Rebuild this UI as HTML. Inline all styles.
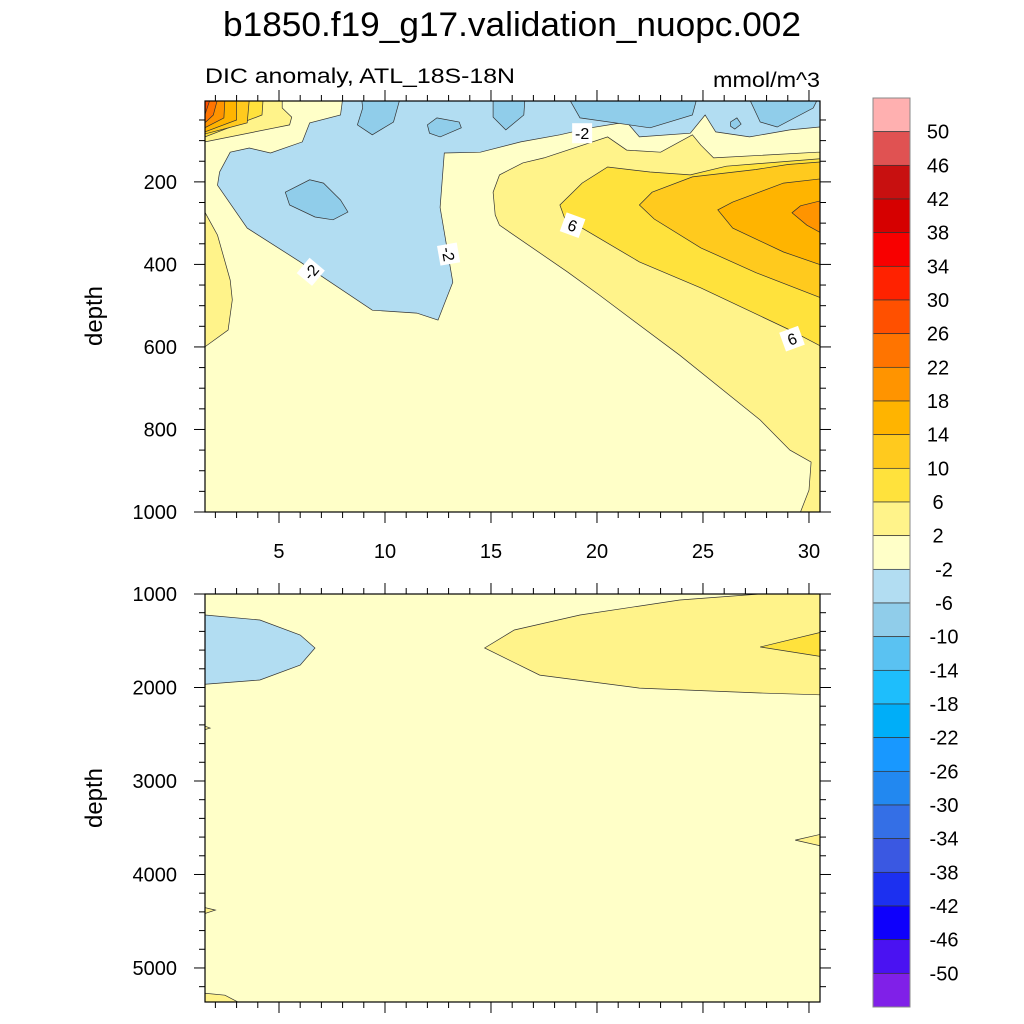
<!DOCTYPE html>
<html><head><meta charset="utf-8"><style>
body{margin:0;background:#fff;}
svg{display:block;font-family:"Liberation Sans",Arial,sans-serif;}
</style></head><body>
<svg id="chart" width="1024" height="1024" viewBox="0 0 1024 1024">
<defs>
<clipPath id="clipTop"><rect x="205" y="101" width="615" height="411"/></clipPath>
<clipPath id="clipBot"><rect x="205" y="594" width="615" height="408"/></clipPath>
</defs>
<text x="512" y="36" font-size="34" text-anchor="middle" textLength="578" lengthAdjust="spacingAndGlyphs">b1850.f19_g17.validation_nuopc.002</text>
<text x="205" y="83" font-size="21" textLength="310" lengthAdjust="spacingAndGlyphs">DIC anomaly, ATL_18S-18N</text>
<text x="820" y="87" font-size="21" text-anchor="end" textLength="107" lengthAdjust="spacingAndGlyphs">mmol/m^3</text>
<text transform="translate(102,316) rotate(-90)" font-size="24" text-anchor="middle">depth</text>
<text transform="translate(102,798) rotate(-90)" font-size="24" text-anchor="middle">depth</text>
<g id="topFill" clip-path="url(#clipTop)"></g>
<g id="botFill" clip-path="url(#clipBot)"></g>
<g id="axes"></g>
<g id="cbar"></g>
</svg>
<script>
// ---- data ----
const levels = [50,46,42,38,34,30,26,22,18,14,10,6,2,-2,-6,-10,-14,-18,-22,-26,-30,-34,-38,-42,-46,-50];
const colors = ["#FFB0B0","#E05252","#C81010","#D60000","#F80000","#FF2200","#FF5000","#FF7400","#FF9400","#FFB400","#FFCA1E","#FFE23C","#FFF38A","#FFFFC8","#B2DDF2","#90CDEA","#5AC2F2","#1EBEFC","#00AEF8","#1898FF","#2288F0","#346FE6","#3A58E2","#1C30F0","#0E00FC","#4A12F2","#8020E8"];
const xTicks = [5,10,15,20,25,30];
const yTicksTop = [200,400,600,800,1000];
const yTicksBot = [1000,2000,3000,4000,5000];
// contour regions: [colorIndex, [[lat,depth],...]]
const topRegions = [
 [12, [[1,273],[1.5,273],[2.1,329],[2.7,438],[2.8,486],[2.6,559],[1.5,600],[1,600]]],
 [12, [[31,128],[30.4,128],[25.5,142],[24.9,111],[24.5,86],[23.0,128],[21.4,123],[20.5,91],[17.5,142],[16.5,154],[15.4,183],[15.1,225],[15.2,280],[15.4,305],[18.6,418],[20.1,474],[23.9,620],[27.7,777],[29.1,850],[30.1,879],[30.0,947],[29.6,1000],[29.5,1010],[31,1010]]],
 [14, [[8.0,0],[7.9,38],[6.45,57],[6.1,103],[4.6,130],[3.6,118],[2.7,128],[2.2,176],[2.1,208],[3.5,312],[6.0,394],[9.4,511],[11.5,518],[12.5,535],[13.2,443],[12.6,262],[12.8,130],[14.5,128],[16.4,103],[18.25,86],[19.7,69],[21.4,55],[22.0,91],[24.4,82],[25.1,38],[25.6,79],[27.2,91],[29.1,74],[30.5,67],[31,67],[31,0]]],
 [15, [[8.9,0],[8.95,21],[8.7,62],[9.4,86],[10.4,55],[10.7,0]]],
 [15, [[12.0,62],[12.45,45],[13.5,55],[13.6,69],[12.6,91],[12.1,82]]],
 [15, [[15.1,0],[16.6,0],[16.55,38],[15.7,74],[15.1,43]]],
 [15, [[18.7,0],[19.2,45],[22.5,69],[24.5,38],[24.7,0]]],
 [15, [[26.3,55],[26.6,45],[26.8,60],[26.5,72],[26.3,65]]],
 [15, [[27.2,0],[27.7,55],[28.5,67],[30.2,21],[30.4,0]]],
 [15, [[5.3,225],[6.45,195],[7.1,203],[7.9,244],[8.25,273],[7.55,292],[6.7,285],[5.5,256]]],
 [12, [[1,0],[5.15,0],[5.15,21],[5.6,43],[5.5,62],[1.5,103],[1,105]]],
 [11, [[1,0],[4.25,0],[4.2,38],[1.5,91],[1,91]]],
 [10, [[1,0],[3.6,0],[3.5,57],[1.5,84],[1,84]]],
 [9, [[1,0],[3.0,0],[3.0,50],[1.5,79],[1,79]]],
 [8, [[1,0],[2.45,0],[2.4,45],[1.5,69],[1,69]]],
 [7, [[1,0],[2.1,0],[1.9,38],[1.5,57],[1,57]]],
 [6, [[1,0],[1.75,0],[1.5,38],[1,38]]],
 [11, [[31,142],[26.1,162],[24.4,183],[22.5,176],[20.5,164],[19.3,203],[18.25,256],[18.5,292],[19.3,312],[22.0,394],[24.9,457],[29.1,559],[31,610]]],
 [10, [[31,150],[29,158],[27.5,170],[24.5,188],[22.6,225],[22.0,256],[22.7,290],[24.9,360],[27.5,420],[31,490]]],
 [9, [[31,190],[28.8,203],[26.4,249],[25.7,268],[26.4,312],[28.8,370],[31,409]]],
 [8, [[31,240],[29.6,258],[29.2,275],[29.9,305],[31,336]]]
];
const botRegions = [
 [14, [[1,1214],[4.1,1278],[6.0,1439],[6.7,1578],[6.0,1760],[4.1,1920],[1,1974]]],
 [12, [[14.7,1578],[16.1,1385],[19.2,1225],[23.9,1064],[28.0,995],[31,990],[31,2081],[27.7,2059],[22.0,2006],[17.3,1867]]],
 [11, [[27.7,1567],[31,1385],[31,1685]]],
 [12, [[1,2370],[1.75,2434],[1,2487]]],
 [12, [[1,4328],[2.0,4381],[1,4456]]],
 [12, [[29.35,3632],[31,3547],[31,3718]]],
 [12, [[1,5259],[2.45,5291],[3.2,5380],[1,5380]]]
];
const lineLabels = [["-2",19.3,82,0],["6",18.85,305,20],["-2",13.0,375,80],["-2",6.5,418,-50],["6",29.2,580,-20]];
// ---- scales ----
const X0=205,X1=820,LAT0=1.51,LAT1=30.52;
function xs(v){return X0+(v-LAT0)*(X1-X0)/(LAT1-LAT0);}
function yt(d){return 101+(d-4)*(512-101)/(1000-4);}
function yb(d){return 594+(d-1000)*(1002-594)/(5364-1000);}
const NS="http://www.w3.org/2000/svg";
function mk(tag,attrs,parent){const e=document.createElementNS(NS,tag);for(const k in attrs)e.setAttribute(k,attrs[k]);parent.appendChild(e);return e;}
function drawPanel(g,regions,ys,ymin,ymax){
 const bg=mk('rect',{x:X0,y:ys(ymin),width:X1-X0,height:ys(ymax)-ys(ymin),fill:colors[13]},g);
 
 
 regions.forEach((r,i)=>{
  const pts=r[1].map(p=>xs(p[0]).toFixed(1)+','+ys(p[1]).toFixed(1)).join(' ');
  const p=mk('polygon',{points:pts,fill:colors[r[0]],stroke:'#333',"stroke-width":0.7},g);
  
  
 });
}
drawPanel(document.getElementById('topFill'),topRegions,yt,4,1000);
drawPanel(document.getElementById('botFill'),botRegions,yb,1000,5364);
// contour labels
const tf=document.getElementById('topFill');
lineLabels.forEach(l=>{
 const g=mk('g',{transform:`translate(${xs(l[1])},${yt(l[2])}) rotate(${l[3]})`},tf);
 
 
 mk('rect',{x:-10,y:-10,width:20,height:20,fill:'#fff'},g);
 const t=mk('text',{x:0,y:6,"font-size":16,"text-anchor":"middle"},g);t.textContent=l[0];
});
// axes
const ax=document.getElementById('axes');
function frame(y0,y1,name){const r=mk('rect',{x:X0,y:y0,width:X1-X0,height:y1-y0,fill:'none',stroke:'#000',"stroke-width":1.2},ax);
 
 }
frame(101,512,'top-plot-frame');frame(594,1002,'bottom-plot-frame');
function tick(x1,y1,x2,y2){mk('line',{x1:x1,y1:y1,x2:x2,y2:y2,stroke:'#000',"stroke-width":1},ax);}
[[101,512],[594,1002]].forEach(([a,b])=>{
 for(let v=2;v<=30;v++){const x=xs(v);const maj=v%5===0;const L=maj?11:6;tick(x,a,x,a-L);tick(x,b,x,b+L);}
});
xTicks.forEach(v=>{const t=mk('text',{x:xs(v),y:558,"font-size":20,"text-anchor":"middle"},ax);t.textContent=v;
 
 });
for(let d=50;d<=1000;d+=50){const y=yt(d);const L=d%200===0?11:6;tick(X0,y,X0-L,y);tick(X1,y,X1+L,y);}
yTicksTop.forEach(v=>{const t=mk('text',{x:177,y:yt(v)+7,"font-size":20,"text-anchor":"end"},ax);t.textContent=v;
 
 });
for(let d=1200;d<=5300;d+=200){const y=yb(d);const L=d%1000===0?11:6;tick(X0,y,X0-L,y);tick(X1,y,X1+L,y);}
tick(X0,594,X0-11,594);tick(X1,594,X1+11,594);
yTicksBot.forEach(v=>{const t=mk('text',{x:177,y:yb(v)+7,"font-size":20,"text-anchor":"end"},ax);t.textContent=v;
 
 });
// colorbar
const cb=document.getElementById('cbar');
const CB0=98,CB1=1007,n=colors.length,bh=(CB1-CB0)/n;
colors.forEach((c,i)=>{const r=mk('rect',{x:873,y:CB0+i*bh,width:37,height:bh,fill:c,stroke:'#333',"stroke-width":0.7},cb);
 
 });
mk('rect',{x:873,y:CB0,width:37,height:CB1-CB0,fill:'none',stroke:'#888',"stroke-width":1},cb);
levels.forEach((v,i)=>{const t=mk('text',{x:v<0?944:938,y:CB0+(i+1)*bh+7,"font-size":20,"text-anchor":"middle"},cb);t.textContent=v;
 
 });
</script>
</body></html>
